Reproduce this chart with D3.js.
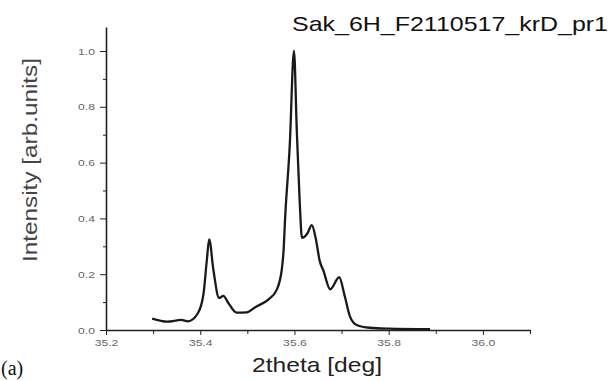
<!DOCTYPE html>
<html>
<head>
<meta charset="utf-8">
<script src="https://d3js.org/d3.v7.min.js"></script>
<style>
    body { margin: 0; background: #fff; }
    .tick text { font-family: "Liberation Sans", Arial, sans-serif; font-size: 9.5px; fill: #666; }
    .domain, .tick line { stroke: #222; }
</style>
</head>
<body>
<script>
    // 2theta [deg]
    var twoTheta = [35.298, 35.33, 35.36, 35.374, 35.395, 35.407, 35.414, 35.419, 35.428, 35.44,
        35.449, 35.46, 35.477, 35.499, 35.516, 35.545, 35.562, 35.573, 35.577, 35.58,
        35.59, 35.599, 35.605, 35.611, 35.616, 35.627, 35.637, 35.645, 35.654, 35.661,
        35.676, 35.695, 35.707, 35.718, 35.732, 35.76, 35.8, 35.888];
    // normalized intensity
    var intensity = [0.041, 0.030, 0.036, 0.031, 0.060, 0.130, 0.250, 0.325, 0.215, 0.115,
        0.122, 0.096, 0.062, 0.063, 0.081, 0.110, 0.143, 0.215, 0.287, 0.394,
        0.660, 1.000, 0.715, 0.466, 0.330, 0.345, 0.376, 0.330, 0.245, 0.215,
        0.146, 0.189, 0.120, 0.048, 0.018, 0.008, 0.005, 0.003];
    var xTicks = [35.2, 35.4, 35.6, 35.8, 36.0];
    var xMinor = [35.3, 35.5, 35.7, 35.9, 36.1];
    var yTicks = [0.0, 0.2, 0.4, 0.6, 0.8, 1.0];
    var yMinor = [0.1, 0.3, 0.5, 0.7, 0.9];

    var w = 610, h = 381;
    var svg = d3.select("body").append("svg").attr("width", w).attr("height", h);

    var x = d3.scaleLinear().domain([35.2, 36.1]).range([106, 530]);
    var y = d3.scaleLinear().domain([0, 1.086]).range([330, 27]);

    // the scan is stretched sideways, so widen the text a bit
    function stretch(sel, k) {
        sel.each(function () {
            var l = this.getComputedTextLength();
            d3.select(this).attr("textLength", l * k).attr("lengthAdjust", "spacingAndGlyphs");
        });
    }

    // minor ticks first
    svg.append("g")
        .attr("transform", "translate(0,330)")
        .call(d3.axisBottom(x).tickValues(xMinor).tickSize(4).tickFormat(""))
        .select(".domain").remove();
    svg.append("g")
        .attr("transform", "translate(106,0)")
        .call(d3.axisLeft(y).tickValues(yMinor).tickSize(3).tickFormat(""))
        .select(".domain").remove();

    var xAxis = svg.append("g")
        .attr("transform", "translate(0,330)")
        .call(d3.axisBottom(x).tickValues(xTicks).tickSize(5).tickSizeOuter(0).tickPadding(4).tickFormat(d3.format(".1f")));
    xAxis.select(".domain").attr("stroke-width", 1.6);
    stretch(xAxis.selectAll(".tick text"), 1.28);

    var yAxis = svg.append("g")
        .attr("transform", "translate(106,0)")
        .call(d3.axisLeft(y).tickValues(yTicks).tickSize(6).tickSizeOuter(0).tickPadding(5).tickFormat(d3.format(".1f")));
    yAxis.select(".domain").attr("stroke-width", 1.6);
    stretch(yAxis.selectAll(".tick text"), 1.28);

    var pts = twoTheta.map(function (d, i) { return [d, intensity[i]]; });
    var line = d3.line()
        .x(function (d) { return x(d[0]); })
        .y(function (d) { return y(d[1]); })
        .curve(d3.curveMonotoneX);

    svg.append("path")
        .datum(pts)
        .attr("fill", "none")
        .attr("stroke", "#1a1a1a")
        .attr("stroke-width", 2.3)
        .attr("stroke-linejoin", "round")
        .attr("d", line);

    svg.append("text")
        .attr("x", 292).attr("y", 31)
        .attr("textLength", 316).attr("lengthAdjust", "spacingAndGlyphs")
        .style("font-family", "Liberation Sans, Arial, sans-serif")
        .style("font-size", "21px").style("fill", "#111")
        .text("Sak_6H_F2110517_krD_pr1");

    svg.append("text")
        .attr("transform", "translate(37,160) rotate(-90)")
        .attr("text-anchor", "middle")
        .attr("textLength", 204).attr("lengthAdjust", "spacingAndGlyphs")
        .style("font-family", "Liberation Sans, Arial, sans-serif")
        .style("font-size", "20px").style("fill", "#444")
        .text("Intensity [arb.units]");

    svg.append("text")
        .attr("x", 252).attr("y", 372)
        .attr("textLength", 130).attr("lengthAdjust", "spacingAndGlyphs")
        .style("font-family", "Liberation Sans, Arial, sans-serif")
        .style("font-size", "21px").style("fill", "#222")
        .text("2theta [deg]");

    svg.append("text")
        .attr("x", 1).attr("y", 375)
        .style("font-family", "Liberation Serif, Times New Roman, serif")
        .style("font-size", "20px").style("fill", "#111")
        .text("(a)");
</script>
</body>
</html>
